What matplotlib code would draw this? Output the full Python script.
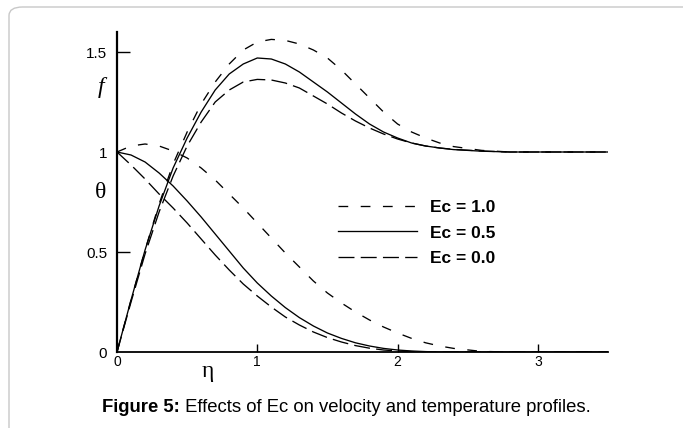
######################################################################
# Effects of Ec on velocity and temperature profiles (Figure 5)
######################################################################

import matplotlib
matplotlib.use("Agg")
import matplotlib.pyplot as plt
from matplotlib.patches import FancyBboxPatch

plt.rcParams['font.family'] = ['Liberation Sans', 'DejaVu Sans']
plt.rcParams['lines.scale_dashes'] = False

######################################################################
# data
######################################################################

eta = [0.0, 0.1, 0.2, 0.3, 0.4, 0.5, 0.6, 0.7, 0.8, 0.9, 1.0, 1.1, 1.2,
       1.3, 1.4, 1.5, 1.6, 1.7, 1.8, 1.9, 2.0, 2.1, 2.2, 2.3, 2.4, 2.6,
       2.8, 3.0, 3.5]

# velocity profiles f(eta)
f_ec10 = [0.0, 0.26, 0.51, 0.74, 0.94, 1.10, 1.24, 1.35, 1.44, 1.51, 1.55,
          1.563, 1.558, 1.54, 1.51, 1.47, 1.41, 1.34, 1.27, 1.20, 1.14,
          1.10, 1.07, 1.045, 1.027, 1.008, 1.0, 1.0, 1.0]
f_ec05 = [0.0, 0.26, 0.51, 0.73, 0.92, 1.07, 1.20, 1.31, 1.39, 1.44, 1.47,
          1.465, 1.44, 1.40, 1.35, 1.30, 1.245, 1.19, 1.14, 1.10, 1.07,
          1.045, 1.03, 1.02, 1.012, 1.004, 1.0, 1.0, 1.0]
f_ec00 = [0.0, 0.25, 0.49, 0.70, 0.88, 1.03, 1.15, 1.25, 1.31, 1.35, 1.363,
          1.36, 1.345, 1.32, 1.28, 1.24, 1.195, 1.155, 1.12, 1.09, 1.065,
          1.045, 1.03, 1.02, 1.013, 1.005, 1.0, 1.0, 1.0]

# temperature profiles theta(eta)
t_ec10 = [1.0, 1.03, 1.04, 1.03, 1.005, 0.97, 0.92, 0.86, 0.79, 0.72, 0.645,
          0.57, 0.495, 0.425, 0.355, 0.295, 0.245, 0.20, 0.16, 0.125, 0.095,
          0.068, 0.046, 0.03, 0.018, 0.003, 0.0, 0.0, 0.0]
t_ec05 = [1.0, 0.985, 0.95, 0.895, 0.83, 0.755, 0.675, 0.59, 0.505, 0.42,
          0.345, 0.28, 0.222, 0.172, 0.13, 0.095, 0.068, 0.046, 0.03, 0.018,
          0.01, 0.005, 0.002, 0.0, 0.0, 0.0, 0.0, 0.0, 0.0]
t_ec00 = [1.0, 0.935, 0.865, 0.79, 0.72, 0.645, 0.565, 0.485, 0.41, 0.34,
          0.28, 0.225, 0.175, 0.135, 0.10, 0.072, 0.05, 0.032, 0.019, 0.01,
          0.005, 0.002, 0.0, 0.0, 0.0, 0.0, 0.0, 0.0, 0.0]

labels = ["Ec = 1.0", "Ec = 0.5", "Ec = 0.0"]
xticks = [0, 1, 2, 3]
yticks = [0, 0.5, 1, 1.5]
ytick_labels = ["0", "0.5", "1", "1.5"]

######################################################################
# figure
######################################################################

fig = plt.figure(figsize = (6.83, 4.28), dpi = 100)
fig.patch.set_facecolor("white")

# light rounded frame round the figure (runs off right and bottom)
frame = FancyBboxPatch((9 / 683, -0.2), 1.2, 1.2 - 7 / 428,
                       boxstyle = "round,pad=0,rounding_size=0.02",
                       transform = fig.transFigure, facecolor = "none",
                       edgecolor = "#c8c8c8", linewidth = 1.0)
fig.patches.append(frame)

ax = fig.add_axes([117 / 683, 76 / 428, 491 / 683, 320 / 428])

short = (0, (7, 9))
solid = '-'
long = (0, (11.5, 4.5))

ax.plot(eta, f_ec10, color = 'black', lw = 0.95, linestyle = short, label = labels[0])
ax.plot(eta, f_ec05, color = 'black', lw = 0.95, linestyle = solid, label = labels[1])
ax.plot(eta, f_ec00, color = 'black', lw = 0.95, linestyle = long, label = labels[2])
ax.plot(eta, t_ec10, color = 'black', lw = 0.95, linestyle = short)
ax.plot(eta, t_ec05, color = 'black', lw = 0.95, linestyle = solid)
ax.plot(eta, t_ec00, color = 'black', lw = 0.95, linestyle = long)

ax.set_xlim(0, 3.5)
ax.set_ylim(0, 1.6)

for s in ['top', 'right']:
    ax.spines[s].set_visible(False)
ax.spines['left'].set_linewidth(1.6)
ax.spines['bottom'].set_linewidth(1.3)

ax.set_xticks(xticks)
ax.set_yticks(yticks)
ax.set_yticklabels(ytick_labels)
ax.tick_params(axis = 'x', direction = 'in', length = 6, width = 1.0,
               labelsize = 10, pad = 2)
ax.tick_params(axis = 'y', direction = 'in', length = 9, width = 1.0,
               labelsize = 11, pad = 7)
# no marks at eta = 0 and at 0 / 1 on the vertical axis
ax.xaxis.get_major_ticks()[0].tick1line.set_visible(False)
ax.yaxis.get_major_ticks()[0].tick1line.set_visible(False)
ax.yaxis.get_major_ticks()[2].tick1line.set_visible(False)

# axis symbols
fig.text(101 / 683, 1 - 87 / 428, "f", family = 'Liberation Serif',
         style = 'italic', fontsize = 17, ha = 'center', va = 'center')
fig.text(101 / 683, 1 - 193 / 428, "θ", family = 'Liberation Serif',
         fontsize = 17, ha = 'center', va = 'center')
fig.text(208 / 683, 1 - 372 / 428, "η", family = 'Liberation Serif',
         fontsize = 17, ha = 'center', va = 'center')

leg = ax.legend(loc = 'center left', bbox_to_anchor = (338 / 683, 1 - 233 / 428),
                bbox_transform = fig.transFigure, frameon = False,
                handlelength = 4.55, handletextpad = 0.75, labelspacing = 0.62,
                borderpad = 0, borderaxespad = 0,
                prop = {'weight': 'bold', 'size': 12.5})

# caption: bold "Figure 5:" followed by regular text
cap1 = fig.text(102 / 683, 1 - 407 / 428, "Figure 5:", fontweight = 'bold',
                fontsize = 13.3, ha = 'left', va = 'center')
ax.annotate(" Effects of Ec on velocity and temperature profiles.",
            xy = (1, 0), xycoords = cap1, va = 'bottom', ha = 'left',
            fontsize = 13.3, annotation_clip = False)

fig.savefig("out.png", dpi = 100)

######################################################################
# THE END
######################################################################
